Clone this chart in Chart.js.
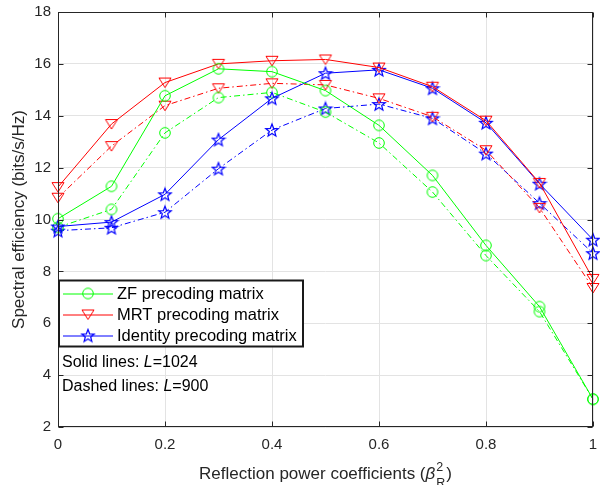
<!DOCTYPE html>
<html><head><meta charset="utf-8">
<style>html,body{margin:0;padding:0;background:#fff;}#wrap{width:600px;height:485px;position:relative;}</style>
<script src="https://cdn.jsdelivr.net/npm/chart.js@4.4.0/dist/chart.umd.min.js"></script>
</head><body><div id="wrap"><canvas id="c" width="600" height="485"></canvas></div>
<script>
// ---- data ----
const xValues = [0, 0.1, 0.2, 0.3, 0.4, 0.5, 0.6, 0.7, 0.8, 0.9, 1];
const zfL1024  = [10.03, 11.28, 14.77, 15.81, 15.70, 14.97, 13.63, 11.70, 9.00, 6.64, 3.07];
const zfL900   = [9.70, 10.39, 13.34, 14.70, 14.90, 14.14, 12.95, 11.06, 8.61, 6.45, 3.07];
const mrtL1024 = [11.25, 13.68, 15.28, 16.00, 16.12, 16.17, 15.86, 15.12, 13.81, 11.41, 7.71];
const mrtL900  = [10.84, 12.83, 14.39, 15.06, 15.25, 15.19, 14.67, 13.96, 12.67, 10.45, 7.36];
const idL1024  = [9.73, 9.90, 10.97, 13.08, 14.67, 15.64, 15.77, 15.06, 13.73, 11.38, 9.22];
const idL900   = [9.57, 9.68, 10.28, 11.96, 13.45, 14.28, 14.45, 13.90, 12.54, 10.63, 8.70];
const xTicks = [0, 0.2, 0.4, 0.6, 0.8, 1];
const yTicks = [2, 4, 6, 8, 10, 12, 14, 16, 18];
const legendLabels = ['ZF precoding matrix', 'MRT precoding matrix', 'Identity precoding matrix'];
const noteLines = [['Solid lines: ', 'L', '=1024'], ['Dashed lines: ', 'L', '=900']];
const yTitle = 'Spectral efficiency (bits/s/Hz)';
const xTitle = 'Reflection power coefficients (';

// ---- styles ----
const FONT = '"Liberation Sans", Arial, Helvetica, sans-serif';
const GREEN = '#00ff00', RED = '#ff0000', BLUE = '#0000ff';
const DASHDOT = [6, 3, 1.5, 3];

function makeStar(color) {
  const c = document.createElement('canvas'); c.width = 16; c.height = 16;
  const g = c.getContext('2d'); g.strokeStyle = color; g.lineWidth = 1.2;
  g.beginPath();
  for (let i = 0; i < 10; i++) {
    const r = i % 2 === 0 ? 6.6 : 2.8;
    const ang = -Math.PI / 2 + i * Math.PI / 5;
    const px = 8 + r * Math.cos(ang), py = 8.6 + r * Math.sin(ang);
    i ? g.lineTo(px, py) : g.moveTo(px, py);
  }
  g.closePath(); g.stroke();
  return c;
}
function makeTri(color) {
  const c = document.createElement('canvas'); c.width = 16; c.height = 16;
  const g = c.getContext('2d'); g.strokeStyle = color; g.lineWidth = 1;
  g.beginPath(); g.moveTo(2, 3.5); g.lineTo(14, 3.5); g.lineTo(8, 13); g.closePath(); g.stroke();
  return c;
}
function makeCirc(color) {
  const c = document.createElement('canvas'); c.width = 16; c.height = 16;
  const g = c.getContext('2d'); g.strokeStyle = color; g.lineWidth = 1;
  g.beginPath(); g.arc(8, 8, 5.3, 0, Math.PI * 2); g.stroke();
  return c;
}
const mCirc = makeCirc(GREEN), mTri = makeTri(RED), mStar = makeStar(BLUE);

function ds(label, values, color, marker, dashed) {
  return {
    label, data: xValues.map((x, i) => ({x, y: values[i]})),
    borderColor: color, backgroundColor: color, borderWidth: 1,
    borderDash: dashed ? DASHDOT : [],
    pointStyle: marker, pointRadius: 6, pointHoverRadius: 6,
    fill: false, tension: 0, clip: false, showLine: true,
    inLegend: !dashed
  };
}

const datasets = [
  ds(legendLabels[0], zfL1024, GREEN, mCirc, false),
  ds(legendLabels[1], mrtL1024, RED, mTri, false),
  ds(legendLabels[2], idL1024, BLUE, mStar, false),
  ds(legendLabels[0] + ' L=900', zfL900, GREEN, mCirc, true),
  ds(legendLabels[1] + ' L=900', mrtL900, RED, mTri, true),
  ds(legendLabels[2] + ' L=900', idL900, BLUE, mStar, true)
];

const framePlugin = {
  id: 'frame',
  afterDatasetsDraw(chart) {
    const {ctx, chartArea: a, scales: {x, y}} = chart;
    ctx.save();
    ctx.strokeStyle = '#262626'; ctx.lineWidth = 1;
    const L = Math.round(a.left) + 0.5, R = Math.round(a.right) - 0.5;
    const T = Math.round(a.top) + 0.5, B = Math.round(a.bottom) - 0.5;
    ctx.strokeRect(L, T, R - L, B - T);
    ctx.beginPath();
    xTicks.forEach(v => {
      const px = Math.round(x.getPixelForValue(v)) + 0.5;
      ctx.moveTo(px, B); ctx.lineTo(px, B - 5);
      ctx.moveTo(px, T); ctx.lineTo(px, T + 5);
    });
    yTicks.forEach(v => {
      const py = Math.round(y.getPixelForValue(v)) + 0.5;
      ctx.moveTo(L, py); ctx.lineTo(L + 5, py);
      ctx.moveTo(R, py); ctx.lineTo(R - 5, py);
    });
    ctx.stroke();

    // legend box
    const lx = L + 0.5, ly = a.top + 268.5, lw = 244, lh = 66;
    ctx.fillStyle = '#fff'; ctx.fillRect(lx, ly, lw, lh);
    ctx.lineWidth = 2; ctx.strokeStyle = '#1a1a1a'; ctx.strokeRect(lx, ly, lw, lh);
    ctx.font = '16.5px ' + FONT; ctx.textBaseline = 'middle'; ctx.textAlign = 'left';
    const items = chart.data.datasets.filter(d => d.inLegend);
    items.forEach((d, i) => {
      const cy = ly + 13 + i * 21;
      ctx.strokeStyle = d.borderColor; ctx.lineWidth = 1; ctx.setLineDash([]);
      ctx.beginPath(); ctx.moveTo(lx + 4, cy + 0.5); ctx.lineTo(lx + 54, cy + 0.5); ctx.stroke();
      ctx.drawImage(d.pointStyle, lx + 29 - 8, cy - 8);
      ctx.fillStyle = '#000';
      ctx.fillText(d.label, lx + 58, cy + 1);
    });

    // notes
    noteLines.forEach((parts, i) => {
      const cy = ly + lh + 16 + i * 24;
      let tx = lx + 3;
      ctx.fillStyle = '#000';
      parts.forEach((p, j) => {
        ctx.font = (j === 1 ? 'italic ' : '') + '16px ' + FONT;
        ctx.fillText(p, tx, cy);
        tx += ctx.measureText(p).width;
      });
    });

    // axis titles
    ctx.fillStyle = '#262626';
    ctx.save();
    ctx.translate(19, (a.top + a.bottom) / 2);
    ctx.rotate(-Math.PI / 2);
    ctx.textAlign = 'center'; ctx.textBaseline = 'middle';
    ctx.font = '17px ' + FONT;
    ctx.fillText(yTitle, 0, 0);
    ctx.restore();

    ctx.textBaseline = 'alphabetic'; ctx.textAlign = 'left';
    const f1 = '17px ' + FONT, fIt = 'italic 17px ' + FONT, fs = '12.5px ' + FONT;
    ctx.font = f1; const w1 = ctx.measureText(xTitle).width;
    ctx.font = fIt; const wb = ctx.measureText('\u03B2').width;
    ctx.font = fs; const w2 = Math.max(ctx.measureText('2').width, ctx.measureText('R').width);
    ctx.font = f1; const w3 = ctx.measureText(')').width;
    const total = w1 + wb + 1 + w2 + 1 + w3;
    let tx = (a.left + a.right) / 2 - total / 2;
    const by = 479;
    ctx.font = f1; ctx.fillText(xTitle, tx, by); tx += w1;
    ctx.font = fIt; ctx.fillText('\u03B2', tx, by); tx += wb + 1;
    ctx.font = fs; ctx.fillText('2', tx, by - 8); ctx.fillText('R', tx, by + 8); tx += w2 + 1;
    ctx.font = f1; ctx.fillText(')', tx, by);
    ctx.restore();
  }
};

new Chart(document.getElementById('c'), {
  type: 'line',
  data: {datasets},
  options: {
    responsive: false, animation: false, devicePixelRatio: 1,
    layout: {padding: {left: 0, top: 12, right: 5, bottom: 0}},
    plugins: {legend: {display: false}, tooltip: {enabled: false}},
    scales: {
      x: {
        type: 'linear', min: 0, max: 1,
        afterBuildTicks: s => { s.ticks = xTicks.map(v => ({value: v})); },
        afterFit: s => { s.height = 58; s.paddingLeft = 0; s.paddingRight = 0; },
        ticks: {font: {size: 15, family: FONT}, color: '#262626', padding: 9, maxRotation: 0,
                callback: v => String(v)},
        grid: {color: '#e3e3e3', drawTicks: false, lineWidth: 1},
        border: {display: false}
      },
      y: {
        type: 'linear', min: 2, max: 18,
        afterBuildTicks: s => { s.ticks = yTicks.map(v => ({value: v})); },
        afterFit: s => { s.width = 58; s.paddingTop = 0; s.paddingBottom = 0; },
        ticks: {font: {size: 15, family: FONT}, color: '#262626', padding: 7,
                callback: v => String(v)},
        grid: {color: '#e3e3e3', drawTicks: false, lineWidth: 1},
        border: {display: false}
      }
    }
  },
  plugins: [framePlugin]
});
</script></body></html>
